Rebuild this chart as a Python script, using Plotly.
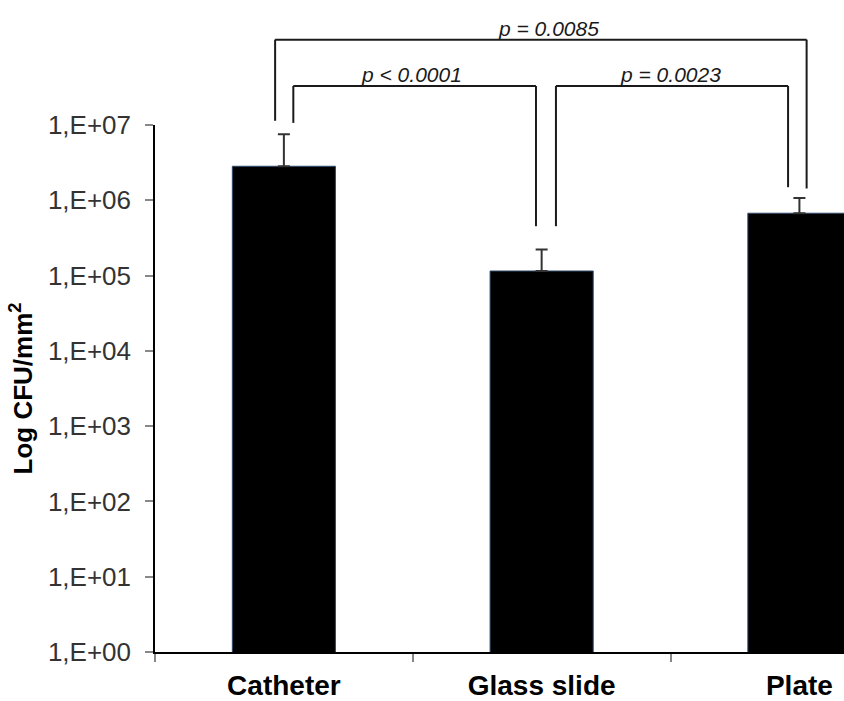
import plotly.graph_objects as go

# ---- data ----
categories = ["Catheter", "Glass slide", "Plate"]
cfu_mean = [2.83e6, 1.15e5, 6.73e5]
cfu_err_plus = [4.7e6, 1.07e5, 4.0e5]
y_tickvals = [1, 10, 100, 1e3, 1e4, 1e5, 1e6, 1e7]
y_ticktext = ["1,E+00", "1,E+01", "1,E+02", "1,E+03", "1,E+04", "1,E+05", "1,E+06", "1,E+07"]

# significance brackets: (x_left, x_right, leg_bottom_left, leg_bottom_right, top, label, label_x)
# x in category units, y in paper units
brackets = [
    (-0.034, 2.028, 1.008, 0.8795, 1.162, "p = 0.0085", 1.027),
    (0.0366, 0.978, 1.004, 0.808, 1.074, "p < 0.0001", 0.495),
    (1.0555, 1.956, 0.808, 0.882, 1.074, "p = 0.0023", 1.498),
]

fig = go.Figure()
fig.add_trace(go.Bar(
    x=categories, y=cfu_mean, width=0.40,
    marker=dict(color="black", line=dict(color="#2e4a6b", width=1)),
    error_y=dict(type="data", array=cfu_err_plus, arrayminus=[0, 0, 0], symmetric=False,
                 color="#333333", thickness=2, width=6),
    hoverinfo="x+y",
))

shapes = []
annotations = []
lc = "#1a1a1a"
for xl, xr, bl, br, top, label, lx in brackets:
    shapes.append(dict(type="line", xref="x", yref="paper", x0=xl, x1=xl, y0=bl, y1=top,
                       line=dict(color=lc, width=2)))
    shapes.append(dict(type="line", xref="x", yref="paper", x0=xl, x1=xr, y0=top, y1=top,
                       line=dict(color=lc, width=2)))
    shapes.append(dict(type="line", xref="x", yref="paper", x0=xr, x1=xr, y0=top, y1=br,
                       line=dict(color=lc, width=2)))
    annotations.append(dict(text=label, xref="x", yref="paper", x=lx, y=top,
                            xanchor="center", yanchor="bottom", showarrow=False, yshift=-2,
                            font=dict(family="Liberation Sans, Arial", size=21, color="#1a1a1a",
                                      style="italic")))

fig.update_layout(
    width=844, height=701,
    margin=dict(l=155, r=0, t=125, b=49),
    plot_bgcolor="white", paper_bgcolor="white",
    showlegend=False,
    shapes=shapes, annotations=annotations,
    xaxis=dict(
        type="category", range=[-0.5, 2.173],
        showline=True, linecolor="black", linewidth=1.5,
        ticks="outside", tickson="boundaries", ticklen=8, tickcolor="#888888", tickwidth=1.5,
        tickfont=dict(family="Liberation Sans, Arial", size=28, color="black", weight="bold"),
        ticklabelstandoff=8,
        showgrid=False, zeroline=False,
    ),
    yaxis=dict(
        type="log", range=[0, 7],
        tickvals=y_tickvals, ticktext=y_ticktext,
        showline=True, linecolor="black", linewidth=1.5,
        ticks="outside", ticklen=8, tickcolor="#888888", tickwidth=1.5,
        tickfont=dict(family="Liberation Sans, Arial", size=26, color="#333333"),
        ticklabelstandoff=9,
        showgrid=False, zeroline=False,
        title=dict(text="Log CFU/mm<sup>2</sup>", standoff=8,
                   font=dict(family="Liberation Sans, Arial", size=26, color="black", weight="bold")),
    ),
)

# remove the default 8px page margin so the figure fills the 844x701 window
fig.write_html("out.html", config={"displayModeBar": False},
               post_script="document.body.style.margin='0';document.body.style.overflow='hidden';")
